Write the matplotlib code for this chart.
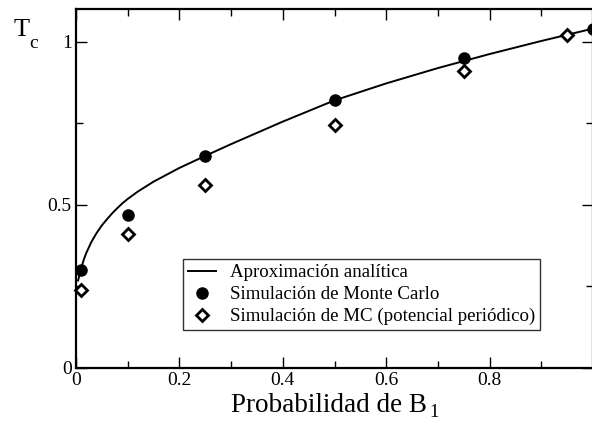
import matplotlib
matplotlib.use("Agg")
import matplotlib.pyplot as plt
from matplotlib.ticker import MultipleLocator

plt.rcParams["font.family"] = ["Liberation Serif", "DejaVu Serif"]

# Analytical approximation of the critical temperature
p_curve = [0.004, 0.01, 0.015, 0.02, 0.03, 0.04, 0.05, 0.06, 0.07, 0.08,
           0.09, 0.1, 0.12, 0.15, 0.2, 0.25, 0.3, 0.4, 0.5, 0.6, 0.7, 0.8,
           0.9, 1.0]
tc_curve = [0.268, 0.305, 0.332, 0.353, 0.387, 0.414, 0.437, 0.456, 0.474, 0.49,
            0.505, 0.518, 0.541, 0.571, 0.613, 0.65, 0.686, 0.755, 0.82, 0.872,
            0.919, 0.962, 1.002, 1.04]

# Monte Carlo simulation
p_mc = [0.01, 0.1, 0.25, 0.5, 0.75, 1.0]
tc_mc = [0.30, 0.47, 0.65, 0.82, 0.95, 1.04]

# Monte Carlo simulation with periodic potential
p_per = [0.01, 0.1, 0.25, 0.5, 0.75, 0.95]
tc_per = [0.24, 0.41, 0.56, 0.745, 0.91, 1.02]

fig = plt.figure(figsize=(5.92, 4.22), dpi=100)
ax = fig.add_axes([76 / 592, 1 - 368 / 422, 517 / 592, 359 / 422])

ax.plot(p_curve, tc_curve, color="black", lw=1.4, label="Aproximación analítica",
        clip_on=False, zorder=2)
ax.plot(p_mc, tc_mc, ls="none", marker="o", ms=8, color="black",
        label="Simulación de Monte Carlo", clip_on=False, zorder=3)
ax.plot(p_per, tc_per, ls="none", marker="D", ms=6, mfc="white", mec="black",
        mew=2, label="Simulación de MC (potencial periódico)", clip_on=False, zorder=3)

ax.set_xlim(0, 1)
ax.set_ylim(0, 1.1)
ax.xaxis.set_minor_locator(MultipleLocator(0.1))
ax.yaxis.set_minor_locator(MultipleLocator(0.25))
ax.set_xticks([0, 0.2, 0.4, 0.6, 0.8])
ax.set_xticklabels(["0", "0.2", "0.4", "0.6", "0.8"])
ax.set_yticks([0, 0.5, 1.0])
ax.set_yticklabels(["0", "0.5", "1"])
ax.tick_params(which="both", direction="in", top=True, right=True,
               width=1.0, labelsize=14)
ax.tick_params(which="major", length=8, pad=3)
ax.tick_params(which="minor", length=5)
for s in ax.spines.values():
    s.set_linewidth(1.6)

# Axis titles
fig.text(231 / 592, 1 - 411.5 / 422, "Probabilidad de B", fontsize=19.5,
         ha="left", va="baseline")
fig.text(429 / 592, 1 / 422, "1", fontsize=13.5, ha="left", va="bottom")
fig.text(14 / 592, 1 - 36 / 422, "T", fontsize=19, ha="left", va="baseline")
fig.text(29 / 592, 1 - 48 / 422, "c", fontsize=14, ha="left", va="baseline")

leg = ax.legend(loc="lower left", bbox_to_anchor=(107 / 517, 38 / 359),
                frameon=True, fancybox=False, fontsize=13.6, handlelength=1.5,
                borderpad=0.25, labelspacing=0.25, handletextpad=0.75,
                borderaxespad=0)
leg.get_frame().set_edgecolor("black")
leg.get_frame().set_linewidth(1.0)

fig.savefig("out.png", dpi=100)
